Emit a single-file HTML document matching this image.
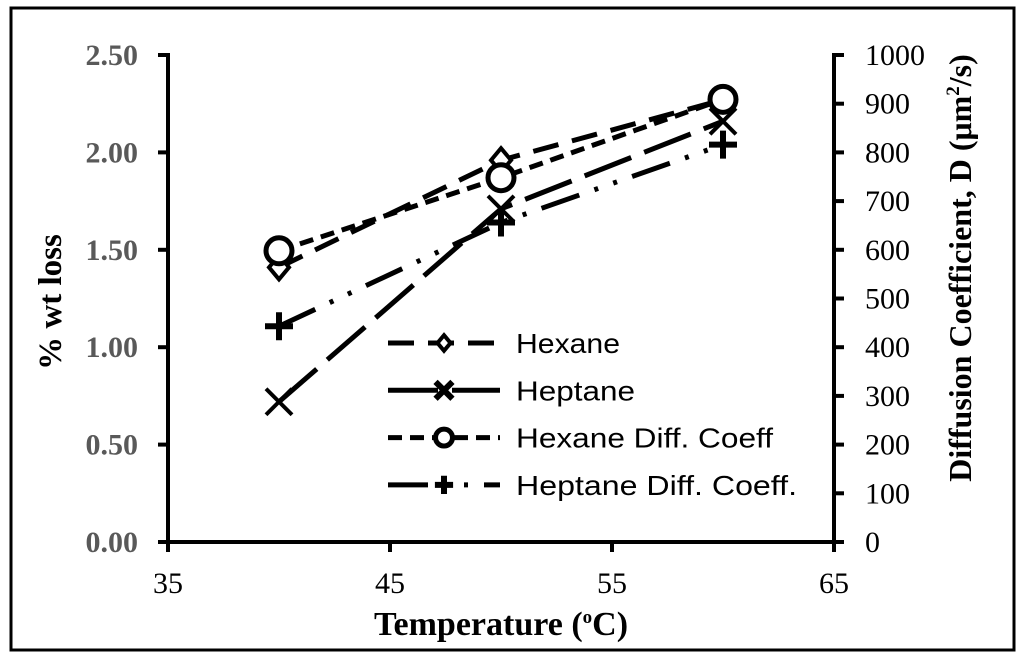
<!DOCTYPE html>
<html><head><meta charset="utf-8"><style>
body{margin:0;background:#fff}
svg{display:block}
</style></head><body>
<svg id="chart" width="1024" height="665" xmlns="http://www.w3.org/2000/svg">
<rect x="11" y="8" width="1003" height="642" fill="none" stroke="#000" stroke-width="3"/>
<g id="axes"></g><g id="series"></g><g id="legend"></g>
</svg>
<script>
const categories=[40,50,60];
const hexane=[1.41,1.96,2.27];
const heptane=[0.72,1.71,2.16];
const hexaneD=[598,748,909];
const heptaneD=[443,656,816];
const xTicks=[35,45,55,65];
const yTicks=["0.00","0.50","1.00","1.50","2.00","2.50"];
const y2Ticks=[0,100,200,300,400,500,600,700,800,900,1000];
const NS="http://www.w3.org/2000/svg";
const L=168,R=834,T=55,B=542;
const xs=v=>L+(v-35)/30*(R-L);
const ys=v=>B-v/2.5*(B-T);
const y2s=v=>B-v/1000*(B-T);
function mk(tag,attrs,parent,text){const e=document.createElementNS(NS,tag);for(const k in attrs)e.setAttribute(k,attrs[k]);if(text!==undefined)e.textContent=text;parent.appendChild(e);return e;}
const ax=document.getElementById('axes');
let e;
e=mk('line',{x1:L,y1:T-2,x2:L,y2:B+2,stroke:'#000','stroke-width':4},ax);


e=mk('line',{x1:R,y1:T-2,x2:R,y2:B+2,stroke:'#000','stroke-width':4},ax);


e=mk('line',{x1:L,y1:B,x2:R,y2:B,stroke:'#000','stroke-width':4},ax);


xTicks.forEach(t=>{
 mk('line',{x1:xs(t),y1:B,x2:xs(t),y2:B+10,stroke:'#000','stroke-width':4},ax);
 e=mk('text',{x:xs(t),y:593,'text-anchor':'middle','font-family':'Liberation Serif, serif','font-size':30},ax,t);
 
 
});
yTicks.forEach(t=>{
 const y=ys(parseFloat(t));
 mk('line',{x1:L-10,y1:y,x2:L,y2:y,stroke:'#000','stroke-width':4},ax);
 e=mk('text',{x:138,y:y+10,'text-anchor':'end','font-family':'Liberation Serif, serif','font-size':30,'font-weight':'bold',fill:'#595959'},ax,t);
 
 
});
y2Ticks.forEach(t=>{
 const y=y2s(t);
 mk('line',{x1:R,y1:y,x2:R+10,y2:y,stroke:'#000','stroke-width':4},ax);
 e=mk('text',{x:865,y:y+10,'font-family':'Liberation Serif, serif','font-size':30},ax,t);
 
 
});
e=mk('text',{x:501,y:635,'text-anchor':'middle','font-family':'Liberation Serif, serif','font-size':34,'font-weight':'bold'},ax);
e.innerHTML='Temperature (<tspan font-size="19" dy="-12">o</tspan><tspan dy="12">C)</tspan>';


e=mk('text',{x:0,y:0,'text-anchor':'middle','font-family':'Liberation Serif, serif','font-size':33,'font-weight':'bold',transform:'translate(61,302) rotate(-90)'},ax,'% wt loss');


e=mk('text',{x:0,y:0,'text-anchor':'middle','font-family':'Liberation Serif, serif','font-size':32,'font-weight':'bold',transform:'translate(971,268) rotate(-90)'},ax);
e.innerHTML='Diffusion Coefficient, D (μm<tspan font-size="19" dy="-12">2</tspan><tspan dy="12">/s)</tspan>';



const sg=document.getElementById('series');
function marker(type,x,y,g,k){
 k=k||1;
 if(type==='diamond')mk('path',{d:`M${x} ${y-12*k}L${x+10*k} ${y}L${x} ${y+12*k}L${x-10*k} ${y}Z`,fill:'#fff',stroke:'#000','stroke-width':4},g);
 else if(type==='x'){mk('path',{d:`M${x-13*k} ${y-13*k}L${x+13*k} ${y+13*k}M${x+13*k} ${y-13*k}L${x-13*k} ${y+13*k}`,stroke:'#000','stroke-width':k<1?6:4},g);}
 else if(type==='circle'){mk('circle',{cx:x,cy:y,r:13*k,fill:'#fff',stroke:'#000','stroke-width':5},g);}
 else if(type==='plus'){mk('path',{d:`M${x-14*k} ${y}L${x+14*k} ${y}M${x} ${y-14*k}L${x} ${y+14*k}`,stroke:'#000','stroke-width':6},g);}
}
const series=[
 {name:'hexane',vals:hexane,sc:ys,dash:'26 14',m:'diamond',label:'Hexane'},
 {name:'heptane',vals:heptane,sc:ys,dash:'50 14',m:'x',label:'Heptane'},
 {name:'hexane-diff-coeff',vals:hexaneD,sc:y2s,dash:'14 8',m:'circle',label:'Hexane Diff. Coeff'},
 {name:'heptane-diff-coeff',vals:heptaneD,sc:y2s,dash:'40 16 4 16 4 16',m:'plus',label:'Heptane Diff. Coeff.'}
];
const legendW=[104,119,257,281];
series.forEach(s=>{
 const g=mk('g',{},sg);
 
 
 const pts=categories.map((c,i)=>xs(c)+','+s.sc(s.vals[i])).join(' ');
 mk('polyline',{points:pts,fill:'none',stroke:'#000','stroke-width':5,'stroke-dasharray':s.dash},g);
 categories.forEach((c,i)=>marker(s.m,xs(c),s.sc(s.vals[i]),g));
});
const lg=document.getElementById('legend');


series.forEach((s,i)=>{
 const y=343+i*47.3;
 const g=mk('g',{},lg);
 
 
 mk('line',{x1:388,y1:y,x2:500,y2:y,stroke:'#000','stroke-width':5,'stroke-dasharray':s.dash},g);
 marker(s.m,444,y,g,0.65);
 mk('text',{x:516,y:y+10,'font-family':'Liberation Sans, sans-serif','font-size':28,textLength:legendW[i],lengthAdjust:'spacingAndGlyphs'},g,s.label);
});
</script>
</body></html>
